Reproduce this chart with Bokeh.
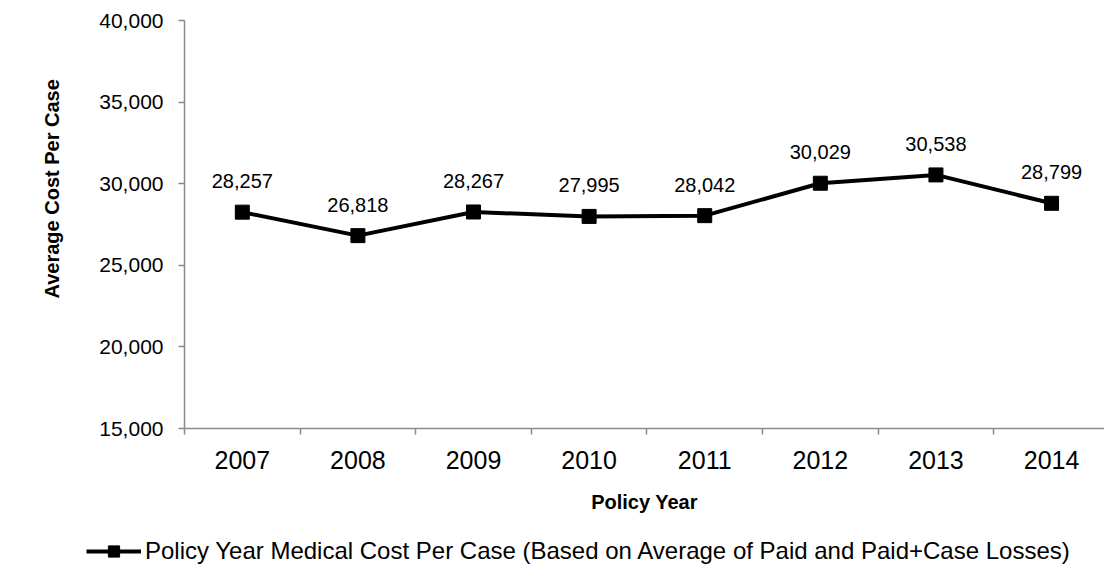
from bokeh.plotting import figure
from bokeh.layouts import column, row
from bokeh.models import (ColumnDataSource, Range1d, FixedTicker, Legend, LegendItem,
                          NumeralTickFormatter, LabelSet, Title)
from bokeh.core.properties import value
from bokeh.embed import file_html
from bokeh.resources import INLINE

# ---- data ----
years = ["2007", "2008", "2009", "2010", "2011", "2012", "2013", "2014"]
cost_per_case = [28257, 26818, 28267, 27995, 28042, 30029, 30538, 28799]
y_ticks = [15000, 20000, 25000, 30000, 35000, 40000]
series_name = "Policy Year Medical Cost Per Case (Based on Average of Paid and Paid+Case Losses)"
x_title = "Policy Year"
y_title = "Average Cost Per Case"

FONT = "Liberation Sans"
AXIS_GREY = "#8a8a8a"

xpos = [i + 0.5 for i in range(len(years))]
labels = [f"{v:,}" for v in cost_per_case]
src = ColumnDataSource(dict(x=xpos, y=cost_per_case, lab=labels))

W, H1, H2 = 1104, 522, 43
p = figure(width=W, height=H1, output_backend="svg", toolbar_location=None,
           x_range=Range1d(0, 7.958), y_range=Range1d(15000, 40000),
           min_border_left=184, min_border_right=0, min_border_top=20,
           min_border_bottom=94)
p.outline_line_color = None
p.grid.visible = False
p.background_fill_color = "white"
p.border_fill_color = "white"

line_r = p.line("x", "y", source=src, line_color="black", line_width=4)
mark_r = p.scatter("x", "y", source=src, marker="square", size=14,
                   fill_color="black", line_color="black")

lbl = LabelSet(x="x", y="y", text="lab", source=src, text_align="center",
               text_baseline="alphabetic", y_offset=24,
               text_font=value(FONT), text_font_size="20px", text_color="black")
p.add_layout(lbl)

# x axis
xa = p.xaxis[0]
xa.ticker = FixedTicker(ticks=xpos, minor_ticks=[float(i) for i in range(len(years) + 1)])
xa.major_label_overrides = {x: y for x, y in zip(xpos, years)}
xa.major_tick_out = 0
xa.major_tick_in = 0
xa.minor_tick_out = 6
xa.minor_tick_in = 0
xa.minor_tick_line_color = AXIS_GREY
xa.minor_tick_line_width = 1.5
xa.axis_line_color = AXIS_GREY
xa.axis_line_width = 1.5
xa.major_label_text_font = FONT
xa.major_label_text_font_size = "25px"
xa.major_label_text_color = "black"
xa.major_label_standoff = 16
xa.axis_label = x_title
xa.axis_label_text_font = FONT
xa.axis_label_text_font_size = "20px"
xa.axis_label_text_font_style = "bold"
xa.axis_label_text_color = "black"
xa.axis_label_standoff = 19

# y axis
ya = p.yaxis[0]
ya.ticker = FixedTicker(ticks=y_ticks)
ya.formatter = NumeralTickFormatter(format="0,0")
ya.major_tick_out = 6
ya.major_tick_in = 0
ya.minor_tick_out = 0
ya.minor_tick_in = 0
ya.major_tick_line_color = AXIS_GREY
ya.major_tick_line_width = 1.5
ya.axis_line_color = AXIS_GREY
ya.axis_line_width = 1.5
ya.major_label_text_font = FONT
ya.major_label_text_font_size = "21px"
ya.major_label_text_color = "black"
ya.major_label_standoff = 15

# y axis title (sits a little above the middle of the plot area, as in the original)
ytitle = Title(text=y_title, align="left", offset=130, standoff=67,
               text_font=FONT, text_font_size="20px", text_font_style="bold",
               text_color="black")
p.add_layout(ytitle, "left")

# legend strip underneath (its glyphs use the same data but lie outside its view)
p2 = figure(width=W, height=H2, output_backend="svg", toolbar_location=None,
            x_range=Range1d(0, 7.958), y_range=Range1d(0, 1),
            x_axis_location=None, y_axis_location=None,
            min_border=0, min_border_left=0, min_border_right=0,
            min_border_top=0, min_border_bottom=0)
p2.grid.visible = False
p2.outline_line_color = None
p2.border_fill_color = "white"
l2 = p2.line("x", "y", source=src, line_color="black", line_width=4)
s2 = p2.scatter("x", "y", source=src, marker="square", size=14,
                fill_color="black", line_color="black")
legend = Legend(items=[LegendItem(label=series_name, renderers=[l2, s2])],
                location=(86, 0), orientation="horizontal",
                glyph_width=55, glyph_height=28, label_height=28, label_standoff=4,
                label_text_font=FONT, label_text_font_size="24px",
                label_text_color="black", padding=0, margin=0,
                border_line_color=None, background_fill_alpha=0)
p2.add_layout(legend, "center")

layout = column(p, row(p2, spacing=0), spacing=0)
open("out.html", "w").write(file_html(layout, INLINE))
